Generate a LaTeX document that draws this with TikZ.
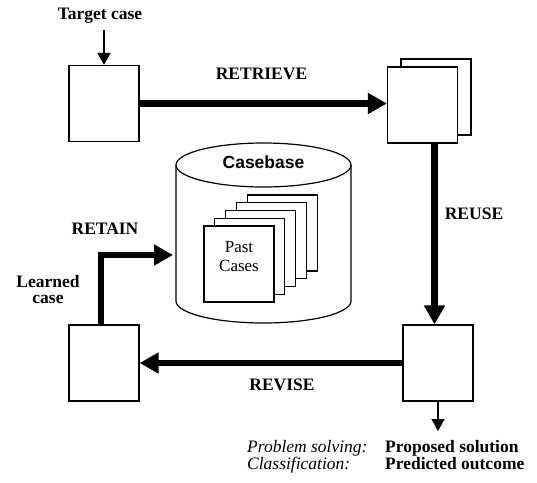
\documentclass[tikz,border=0pt]{standalone}
\usepackage{fontspec}
\setmainfont{Liberation Serif}
\newfontfamily\cbfont{Liberation Sans}
\usetikzlibrary{arrows.meta}

\tikzset{
  casebox/.style={draw, line width=1.2pt, fill=white, minimum width=70pt, minimum height=76pt, inner sep=0pt},
  bigarrow/.style={line width=6.5pt, -{Triangle[length=19pt,width=20pt]}},
  smallarrow/.style={line width=1.3pt, -{Triangle[length=12pt,width=13pt]}},
  lbl/.style={font=\fontsize{17.5}{16}\selectfont\bfseries, inner sep=0pt, anchor=base},
}

\begin{document}
\begin{tikzpicture}[x=1pt,y=-1pt]
    \useasboundingbox (0,0) rectangle (537,482);
    % the four cases of the cycle
    \node[casebox] (target) at (104,103.5) {};
    \node[casebox] (retrback) at (436,97) {};
    \node[casebox] (retrieved) at (422.5,105) {};
    \node[casebox] (solved) at (438,363) {};
    \node[casebox] (learned) at (104,363) {};
    % casebase
    \draw[line width=1.2pt, fill=white](176,165)--(176,301)
        arc[start angle=180, end angle=360, x radius=87.5pt, y radius=22pt]--(351,165);
    \draw[line width=1.2pt](263.5,165) ellipse [x radius=87.5pt, y radius=22pt];
    \node[lbl, font=\cbfont\fontsize{17.5}{18}\selectfont\bfseries] (cb) at (263.5,168) {Casebase};
    \foreach \i in {4,3,2,1}
        \node[casebox] (page\i) at (239+10.8*\i, 264-7.75*\i) {};
    \node[casebox] (past) at (239,264) {};
    \node[anchor=base, inner sep=0pt, align=center, font=\fontsize{17}{19}\selectfont] (pastlbl) at (239,271) {Past\\Cases};
    % arrows
    \coordinate (tgtin) at (104,30);
    \coordinate (cbin) at (173,255);
    \coordinate (out) at (438,431);
    \draw[smallarrow](tgtin)--(target.north);
    \draw[bigarrow](target.east)--(target.east -| retrieved.west);
    \draw[bigarrow]([xshift=12pt]retrieved.south)--([xshift=12pt]retrieved.south |- solved.north);
    \draw[bigarrow](solved.west)--(learned.east);
    \draw[bigarrow]([xshift=-3pt]learned.north)|-(cbin);
    \draw[smallarrow](solved.south)--(out);
    % labels
    \node[lbl] (tgtlbl) at (100,19) {Target case};
    \node[lbl] (retrlbl) at (261.5,79) {RETRIEVE};
    \node[lbl] (reuselbl) at (474,219) {REUSE};
    \node[lbl] (reviselbl) at (282,390) {REVISE};
    \node[lbl] (retainlbl) at (105,234) {RETAIN};
    \node[lbl, align=center] (learnedlbl) at (48,303) {Learned\\case};
    \node[anchor=base west, inner sep=0pt, align=left, font=\fontsize{17.5}{17}\selectfont\itshape] (tasklbl) at (247,469)
    {Problem solving:\\Classification:};
    \node[anchor=base west, inner sep=0pt, align=left, font=\fontsize{17.5}{17}\selectfont\bfseries] (resultlbl) at (385,469)
    {Proposed solution\\Predicted outcome};
\end{tikzpicture}
\end{document}
